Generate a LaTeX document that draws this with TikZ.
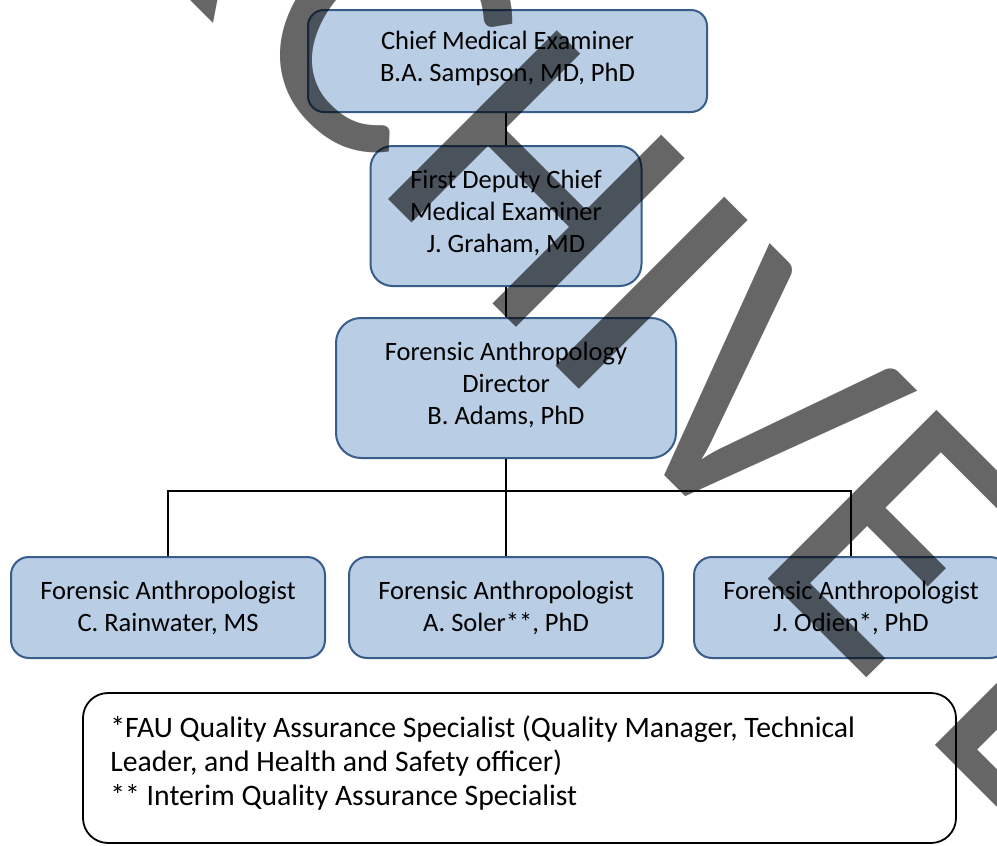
\documentclass[tikz,border=0pt]{standalone}
\usepackage{fontspec}
\setmainfont{Carlito}
\definecolor{boxfill}{HTML}{B9CDE5}
\definecolor{boxline}{HTML}{385D8A}
\begin{document}
\begin{tikzpicture}[x=0.5pt,y=-0.5pt,
  orgbox/.style={draw=boxline, line width=1pt, fill=boxfill, inner sep=0pt},
  orgtext/.style={align=center, font=\fontsize{13.25}{16}\selectfont, inner sep=0pt},
  link/.style={draw=black, line width=0.75pt},
  notebox/.style={draw=black, line width=0.9pt, rounded corners=12.5pt, inner sep=0pt,
    minimum width=436.5pt, minimum height=75pt},
  wmark/.style={text=black, text opacity=0.6,
    inner sep=0pt, anchor=base west, rotate=-45, font=\fontsize{186}{200}\selectfont}]
\useasboundingbox (0,0) rectangle (997,846);
\clip (0,0) rectangle (997,846);
\fill[white] (0,0) rectangle (997,846);
% boxes
\node[orgbox, rounded corners=8pt, minimum width=199.5pt, minimum height=51pt] (b1) at (507.5,61) {};
\node[orgtext] (t1) at ([yshift=1.5pt]b1.center) {Chief Medical Examiner\\B.A. Sampson, MD, PhD};
\node[orgbox, rounded corners=11pt, minimum width=135.5pt, minimum height=70pt] (b2) at (506,216) {};
\node[orgtext] (t2) at ([yshift=1.5pt]b2.center) {First Deputy Chief\\Medical Examiner\\J. Graham, MD};
\node[orgbox, rounded corners=12.5pt, minimum width=170pt, minimum height=70pt] (b3) at (506,388) {};
\node[orgtext] (t3) at ([yshift=1.5pt]b3.center) {Forensic Anthropology\\Director\\B. Adams, PhD};
\node[orgbox, rounded corners=9pt, minimum width=157pt, minimum height=50.5pt] (fa) at (168,607.5) {};
\node[orgtext] (ta) at (fa.center) {Forensic Anthropologist\\C. Rainwater, MS};
\node[orgbox, rounded corners=9pt, minimum width=157pt, minimum height=50.5pt] (fb) at (506,607.5) {};
\node[orgtext] (tb) at (fb.center) {Forensic Anthropologist\\A. Soler**, PhD};
\node[orgbox, rounded corners=9pt, minimum width=157pt, minimum height=50.5pt] (fc) at (851,607.5) {};
\node[orgtext] (tc) at (fc.center) {Forensic Anthropologist\\J. Odien*, PhD};
% connectors
\coordinate (bus) at (506,491);
\draw[link] (b1.south -| b2.north) -- (b2.north);
\draw[link] (b2.south) -- (b3.north);
\draw[link] (b3.south) -- (bus) -- (fb.north);
\draw[link] (fa.north) |- (bus) -| (fc.north);
% notes
\node[notebox] (notes) at (519.5,768) {};
\node[anchor=west, align=left, inner sep=0pt, font=\fontsize{14.85}{17}\selectfont] (notetext) at (110,763)
  {*FAU Quality Assurance Specialist (Quality Manager, Technical\\
   Leader, and Health and Safety officer)\\
   ** Interim Quality Assurance Specialist};
% watermark
\node[wmark] (wm) at (-78.2,-267.7) {AR\kern0.05em CHIVE\kern0.15em D};
\end{tikzpicture}
\end{document}
